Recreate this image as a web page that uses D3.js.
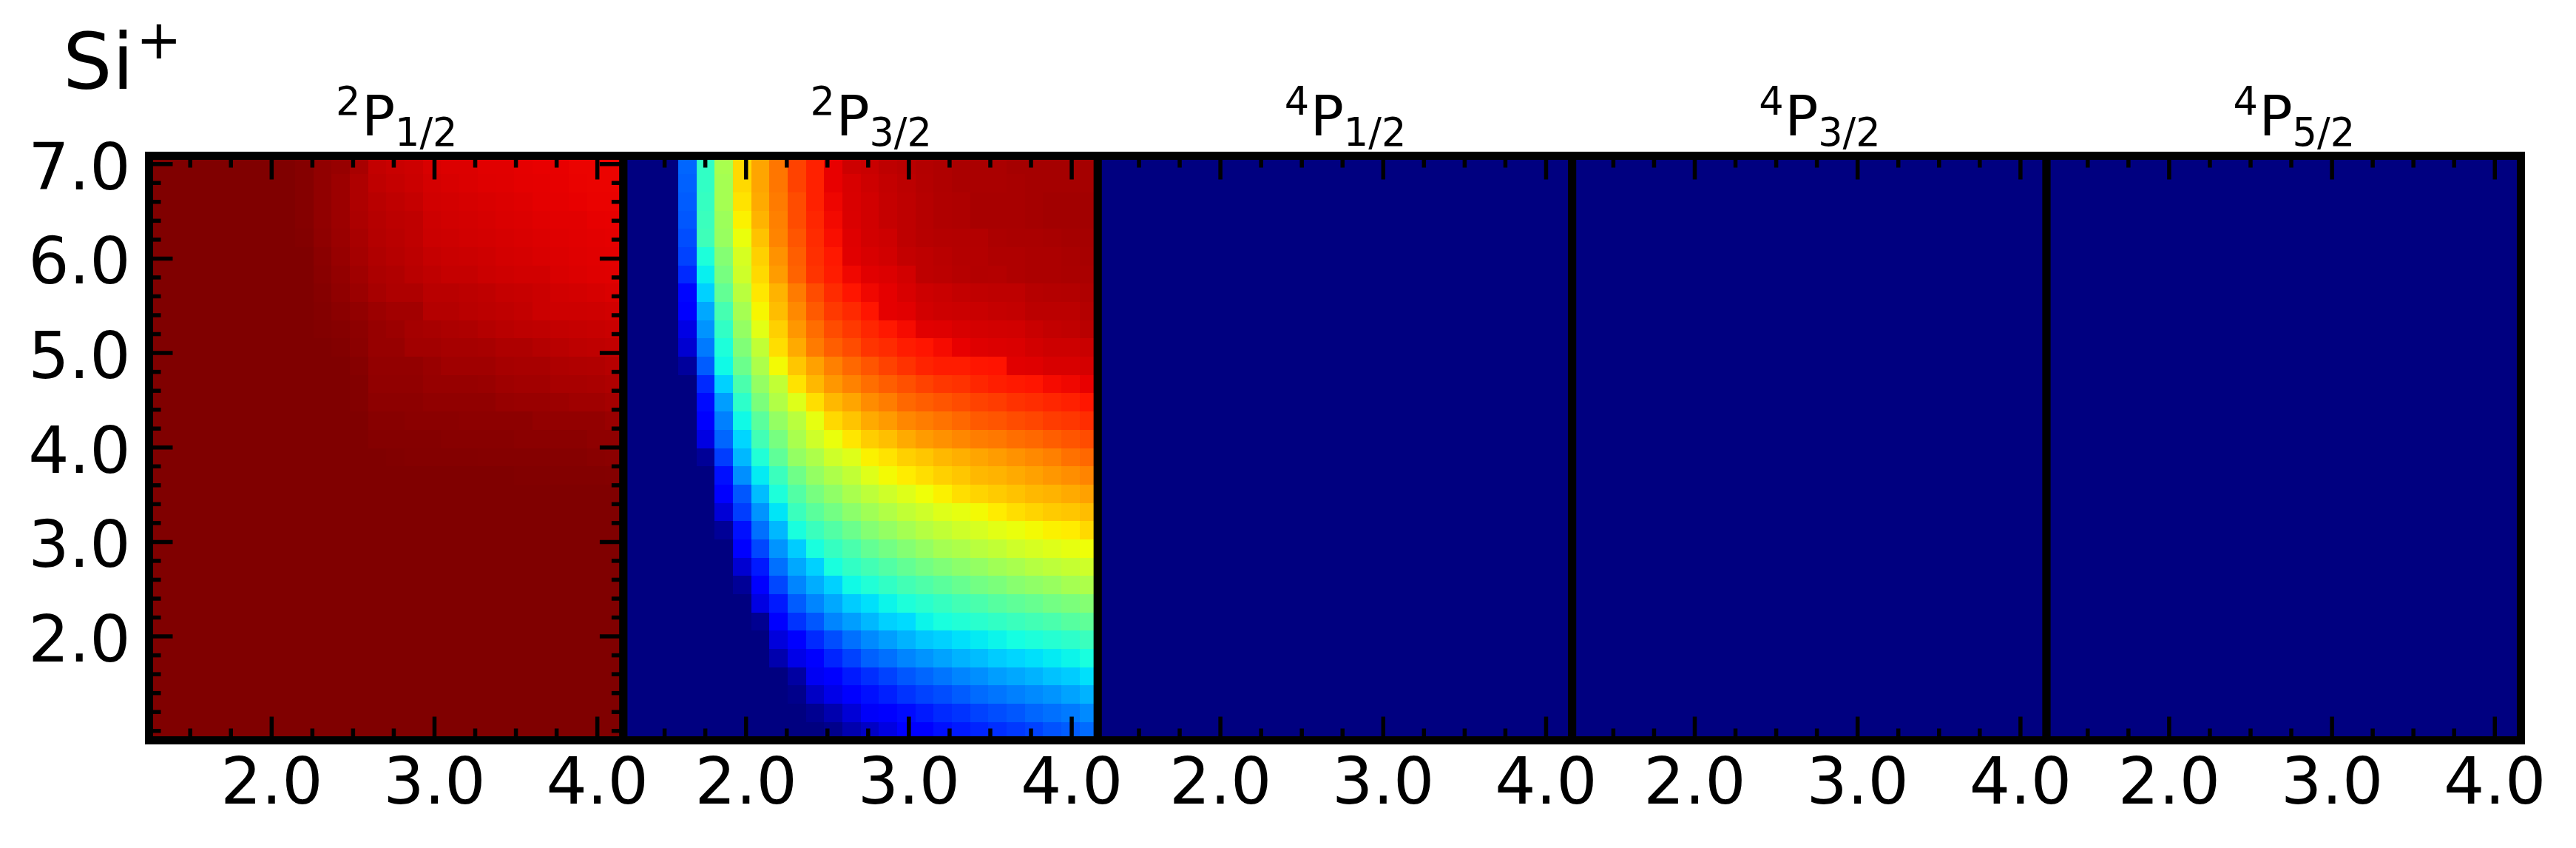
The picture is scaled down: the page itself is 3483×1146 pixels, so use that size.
<!DOCTYPE html>
<html><head><meta charset="utf-8">
<script src="https://cdn.jsdelivr.net/npm/d3@7"></script>
<style>html,body{margin:0;padding:0;background:#fff}svg{display:block}text{font-family:"DejaVu Sans";fill:#000}</style>
</head><body><div id="c"></div>
<script>
const speciesName = "Si", speciesCharge = "+";
const termNames = [["2","P","1/2"],["2","P","3/2"],["4","P","1/2"],["4","P","3/2"],["4","P","5/2"]];
const xMajor = [2,3,4], xMinor = [1.5,1.75,2.25,2.5,2.75,3.25,3.5,3.75];
const yMajor = [2,3,4,5,6,7];
const yMinor = [1,1.2,1.4,1.6,1.8,2.2,2.4,2.6,2.8,3.2,3.4,3.6,3.8,4.2,4.4,4.6,4.8,5.2,5.4,5.6,5.8,6.2,6.4,6.6,6.8];
const xDomain = [1.247,4.16], yDomain = [0.9,7.088];

// rows run from the top of each panel down; each row has 26 cells
const panel1 = [
[1,1,1,1,1,1,1,1,.995,.985,.98,.965,.942,.937,.933,.924,.92,.92,.916,.916,.912,.91,.91,.907,.907,.907],
[1,1,1,1,1,1,1,1,.995,.985,.975,.96,.945,.94,.935,.927,.924,.921,.918,.917,.913,.912,.911,.908,.907,.907],
[1,1,1,1,1,1,1,1,.995,.985,.975,.96,.95,.945,.94,.93,.928,.925,.923,.92,.918,.913,.912,.91,.908,.908],
[1,1,1,1,1,1,1,1,.995,.985,.975,.962,.953,.948,.945,.933,.93,.928,.925,.922,.92,.917,.915,.915,.911,.91],
[1,1,1,1,1,1,1,1,.997,.987,.977,.965,.955,.95,.945,.935,.933,.93,.928,.925,.923,.92,.918,.916,.914,.912],
[1,1,1,1,1,1,1,1,1,.99,.98,.968,.958,.953,.948,.94,.937,.935,.932,.928,.926,.923,.92,.918,.916,.915],
[1,1,1,1,1,1,1,1,1,.992,.983,.972,.962,.958,.95,.945,.94,.94,.935,.932,.93,.93,.923,.92,.918,.917],
[1,1,1,1,1,1,1,1,1,.994,.986,.976,.966,.96,.96,.95,.95,.948,.945,.94,.938,.935,.93,.928,.925,.922],
[1,1,1,1,1,1,1,1,1,.996,.99,.984,.975,.97,.97,.955,.955,.95,.948,.945,.942,.935,.933,.933,.932,.93],
[1,1,1,1,1,1,1,1,1,.997,.994,.988,.98,.975,.968,.965,.962,.96,.955,.95,.947,.945,.942,.94,.938,.936],
[1,1,1,1,1,1,1,1,1,1,.997,.99,.98,.98,.97,.97,.967,.967,.965,.96,.96,.955,.95,.947,.945,.943],
[1,1,1,1,1,1,1,1,1,1,1,.994,.983,.983,.983,.978,.972,.972,.972,.967,.965,.965,.96,.958,.957,.953],
[1,1,1,1,1,1,1,1,1,1,1,.997,.985,.985,.985,.98,.98,.98,.978,.973,.97,.97,.965,.965,.963,.96],
[1,1,1,1,1,1,1,1,1,1,1,.997,.988,.988,.988,.985,.985,.985,.985,.98,.978,.978,.975,.972,.972,.968],
[1,1,1,1,1,1,1,1,1,1,1,1,.993,.993,.99,.99,.99,.988,.988,.988,.988,.983,.983,.983,.983,.978],
[1,1,1,1,1,1,1,1,1,1,1,1,.995,.995,.995,.995,.993,.993,.993,.993,.99,.99,.99,.99,.987,.987],
[1,1,1,1,1,1,1,1,1,1,1,1,1,.998,.996,.996,.996,.996,.995,.995,.995,.995,.994,.994,.992,.99],
[1,1,1,1,1,1,1,1,1,1,1,1,1,1,1,1,1,1,1,1,.998,.998,.997,.997,.997,.996],
[1,1,1,1,1,1,1,1,1,1,1,1,1,1,1,1,1,1,1,1,1,1,1,1,1,1],
[1,1,1,1,1,1,1,1,1,1,1,1,1,1,1,1,1,1,1,1,1,1,1,1,1,1],
[1,1,1,1,1,1,1,1,1,1,1,1,1,1,1,1,1,1,1,1,1,1,1,1,1,1],
[1,1,1,1,1,1,1,1,1,1,1,1,1,1,1,1,1,1,1,1,1,1,1,1,1,1],
[1,1,1,1,1,1,1,1,1,1,1,1,1,1,1,1,1,1,1,1,1,1,1,1,1,1],
[1,1,1,1,1,1,1,1,1,1,1,1,1,1,1,1,1,1,1,1,1,1,1,1,1,1],
[1,1,1,1,1,1,1,1,1,1,1,1,1,1,1,1,1,1,1,1,1,1,1,1,1,1],
[1,1,1,1,1,1,1,1,1,1,1,1,1,1,1,1,1,1,1,1,1,1,1,1,1,1],
[1,1,1,1,1,1,1,1,1,1,1,1,1,1,1,1,1,1,1,1,1,1,1,1,1,1],
[1,1,1,1,1,1,1,1,1,1,1,1,1,1,1,1,1,1,1,1,1,1,1,1,1,1],
[1,1,1,1,1,1,1,1,1,1,1,1,1,1,1,1,1,1,1,1,1,1,1,1,1,1],
[1,1,1,1,1,1,1,1,1,1,1,1,1,1,1,1,1,1,1,1,1,1,1,1,1,1],
[1,1,1,1,1,1,1,1,1,1,1,1,1,1,1,1,1,1,1,1,1,1,1,1,1,1],
[1,1,1,1,1,1,1,1,1,1,1,1,1,1,1,1,1,1,1,1,1,1,1,1,1,1]
];
const panel2 = [
[0,0,0,.225,.41,.555,.68,.735,.785,.84,.875,.91,.933,.937,.946,.95,.956,.959,.963,.963,.963,.968,.968,.968,.968,.968],
[0,0,0,.22,.41,.55,.68,.735,.785,.84,.875,.91,.924,.933,.942,.948,.955,.959,.963,.963,.963,.965,.968,.968,.968,.968],
[0,0,0,.215,.415,.55,.67,.73,.78,.83,.875,.905,.923,.93,.94,.946,.953,.958,.96,.965,.965,.965,.968,.97,.97,.97],
[0,0,0,.21,.42,.54,.655,.72,.775,.83,.87,.90,.922,.93,.94,.946,.953,.958,.96,.965,.965,.965,.968,.97,.97,.97],
[0,0,0,.20,.425,.535,.635,.705,.77,.82,.865,.895,.918,.929,.933,.946,.952,.955,.956,.956,.962,.963,.963,.965,.968,.968],
[0,0,0,.19,.385,.51,.61,.69,.755,.81,.86,.885,.916,.924,.93,.942,.946,.95,.955,.955,.959,.959,.962,.962,.964,.966],
[0,0,0,.165,.36,.495,.60,.68,.745,.805,.855,.88,.903,.916,.92,.929,.946,.949,.953,.956,.955,.959,.962,.962,.963,.963],
[0,0,0,.13,.33,.47,.575,.665,.72,.78,.83,.865,.888,.903,.912,.924,.933,.937,.942,.944,.946,.946,.953,.955,.956,.959],
[0,0,0,.11,.29,.435,.55,.65,.71,.765,.815,.85,.867,.888,.912,.916,.929,.933,.935,.937,.94,.942,.949,.949,.949,.955],
[0,0,0,.088,.27,.41,.53,.625,.69,.75,.795,.83,.85,.87,.885,.898,.916,.918,.924,.927,.929,.93,.937,.942,.944,.95],
[0,0,0,.07,.245,.385,.505,.585,.675,.73,.78,.81,.83,.855,.865,.88,.888,.898,.91,.918,.92,.922,.929,.933,.933,.937],
[0,0,0,.025,.215,.37,.48,.56,.645,.70,.74,.775,.80,.82,.84,.857,.873,.88,.88,.888,.89,.916,.918,.924,.924,.927],
[0,0,0,0,.165,.33,.44,.53,.585,.67,.715,.75,.772,.794,.81,.825,.84,.852,.857,.87,.878,.884,.888,.898,.903,.91],
[0,0,0,0,.135,.28,.405,.50,.565,.62,.675,.715,.735,.762,.778,.80,.81,.82,.83,.84,.847,.857,.862,.87,.876,.887],
[0,0,0,0,.11,.25,.37,.46,.53,.575,.63,.68,.703,.73,.746,.767,.778,.788,.80,.815,.82,.83,.836,.847,.852,.862],
[0,0,0,0,.085,.225,.335,.43,.495,.555,.60,.635,.666,.693,.708,.73,.746,.757,.767,.778,.783,.794,.80,.81,.82,.83],
[0,0,0,0,.02,.185,.305,.39,.465,.53,.56,.60,.62,.655,.67,.69,.70,.715,.725,.735,.745,.755,.765,.775,.79,.80],
[0,0,0,0,0,.14,.265,.355,.42,.485,.53,.56,.585,.62,.645,.66,.675,.69,.70,.715,.72,.73,.74,.75,.76,.77],
[0,0,0,0,0,.11,.21,.31,.385,.45,.495,.525,.555,.58,.60,.62,.64,.655,.675,.685,.695,.705,.715,.72,.73,.74],
[0,0,0,0,0,.075,.185,.27,.35,.42,.46,.49,.52,.545,.565,.585,.60,.62,.63,.645,.66,.675,.685,.695,.70,.71],
[0,0,0,0,0,.02,.14,.235,.305,.38,.42,.45,.48,.51,.53,.55,.57,.585,.60,.61,.625,.635,.645,.655,.66,.68],
[0,0,0,0,0,0,.11,.195,.27,.325,.38,.415,.44,.47,.49,.51,.53,.55,.56,.575,.585,.60,.61,.62,.63,.64],
[0,0,0,0,0,0,.07,.15,.235,.29,.33,.38,.41,.43,.45,.47,.49,.505,.52,.53,.545,.555,.57,.58,.59,.60],
[0,0,0,0,0,0,.02,.11,.195,.255,.295,.33,.37,.39,.41,.43,.445,.46,.475,.49,.50,.515,.525,.535,.55,.56],
[0,0,0,0,0,0,0,.085,.15,.215,.255,.29,.325,.345,.365,.385,.40,.415,.43,.44,.455,.465,.475,.49,.50,.51],
[0,0,0,0,0,0,0,.015,.115,.175,.21,.255,.28,.305,.33,.34,.365,.38,.39,.40,.41,.42,.43,.44,.455,.465],
[0,0,0,0,0,0,0,0,.08,.115,.165,.20,.235,.26,.28,.30,.32,.33,.345,.355,.365,.375,.385,.395,.405,.42],
[0,0,0,0,0,0,0,0,.04,.09,.115,.16,.19,.22,.235,.255,.27,.285,.30,.31,.325,.335,.345,.355,.365,.38],
[0,0,0,0,0,0,0,0,0,.03,.10,.115,.15,.17,.19,.21,.225,.24,.255,.265,.28,.29,.30,.315,.325,.345],
[0,0,0,0,0,0,0,0,0,.01,.06,.09,.11,.14,.155,.175,.19,.20,.215,.23,.24,.25,.26,.27,.285,.30],
[0,0,0,0,0,0,0,0,0,0,.015,.04,.075,.105,.12,.135,.15,.165,.175,.19,.20,.21,.225,.235,.245,.26],
[0,0,0,0,0,0,0,0,0,0,0,.01,.04,.06,.085,.11,.125,.14,.15,.16,.17,.18,.19,.205,.215,.23]
];
const panelEmpty = [
[0,0,0,0,0,0,0,0,0,0,0,0,0,0,0,0,0,0,0,0,0,0,0,0,0,0],
[0,0,0,0,0,0,0,0,0,0,0,0,0,0,0,0,0,0,0,0,0,0,0,0,0,0],
[0,0,0,0,0,0,0,0,0,0,0,0,0,0,0,0,0,0,0,0,0,0,0,0,0,0],
[0,0,0,0,0,0,0,0,0,0,0,0,0,0,0,0,0,0,0,0,0,0,0,0,0,0],
[0,0,0,0,0,0,0,0,0,0,0,0,0,0,0,0,0,0,0,0,0,0,0,0,0,0],
[0,0,0,0,0,0,0,0,0,0,0,0,0,0,0,0,0,0,0,0,0,0,0,0,0,0],
[0,0,0,0,0,0,0,0,0,0,0,0,0,0,0,0,0,0,0,0,0,0,0,0,0,0],
[0,0,0,0,0,0,0,0,0,0,0,0,0,0,0,0,0,0,0,0,0,0,0,0,0,0],
[0,0,0,0,0,0,0,0,0,0,0,0,0,0,0,0,0,0,0,0,0,0,0,0,0,0],
[0,0,0,0,0,0,0,0,0,0,0,0,0,0,0,0,0,0,0,0,0,0,0,0,0,0],
[0,0,0,0,0,0,0,0,0,0,0,0,0,0,0,0,0,0,0,0,0,0,0,0,0,0],
[0,0,0,0,0,0,0,0,0,0,0,0,0,0,0,0,0,0,0,0,0,0,0,0,0,0],
[0,0,0,0,0,0,0,0,0,0,0,0,0,0,0,0,0,0,0,0,0,0,0,0,0,0],
[0,0,0,0,0,0,0,0,0,0,0,0,0,0,0,0,0,0,0,0,0,0,0,0,0,0],
[0,0,0,0,0,0,0,0,0,0,0,0,0,0,0,0,0,0,0,0,0,0,0,0,0,0],
[0,0,0,0,0,0,0,0,0,0,0,0,0,0,0,0,0,0,0,0,0,0,0,0,0,0],
[0,0,0,0,0,0,0,0,0,0,0,0,0,0,0,0,0,0,0,0,0,0,0,0,0,0],
[0,0,0,0,0,0,0,0,0,0,0,0,0,0,0,0,0,0,0,0,0,0,0,0,0,0],
[0,0,0,0,0,0,0,0,0,0,0,0,0,0,0,0,0,0,0,0,0,0,0,0,0,0],
[0,0,0,0,0,0,0,0,0,0,0,0,0,0,0,0,0,0,0,0,0,0,0,0,0,0],
[0,0,0,0,0,0,0,0,0,0,0,0,0,0,0,0,0,0,0,0,0,0,0,0,0,0],
[0,0,0,0,0,0,0,0,0,0,0,0,0,0,0,0,0,0,0,0,0,0,0,0,0,0],
[0,0,0,0,0,0,0,0,0,0,0,0,0,0,0,0,0,0,0,0,0,0,0,0,0,0],
[0,0,0,0,0,0,0,0,0,0,0,0,0,0,0,0,0,0,0,0,0,0,0,0,0,0],
[0,0,0,0,0,0,0,0,0,0,0,0,0,0,0,0,0,0,0,0,0,0,0,0,0,0],
[0,0,0,0,0,0,0,0,0,0,0,0,0,0,0,0,0,0,0,0,0,0,0,0,0,0],
[0,0,0,0,0,0,0,0,0,0,0,0,0,0,0,0,0,0,0,0,0,0,0,0,0,0],
[0,0,0,0,0,0,0,0,0,0,0,0,0,0,0,0,0,0,0,0,0,0,0,0,0,0],
[0,0,0,0,0,0,0,0,0,0,0,0,0,0,0,0,0,0,0,0,0,0,0,0,0,0],
[0,0,0,0,0,0,0,0,0,0,0,0,0,0,0,0,0,0,0,0,0,0,0,0,0,0],
[0,0,0,0,0,0,0,0,0,0,0,0,0,0,0,0,0,0,0,0,0,0,0,0,0,0],
[0,0,0,0,0,0,0,0,0,0,0,0,0,0,0,0,0,0,0,0,0,0,0,0,0,0]
];
const panels = [panel1, panel2, panelEmpty, panelEmpty, panelEmpty];

// matplotlib "jet" colormap anchors
const jetR = d3.scaleLinear().domain([0,.35,.66,.89,1]).range([0,0,1,1,.5]);
const jetG = d3.scaleLinear().domain([0,.125,.375,.64,.91,1]).range([0,0,1,1,0,0]);
const jetB = d3.scaleLinear().domain([0,.11,.34,.65,1]).range([.5,1,1,0,0]);
const jet = v => `rgb(${Math.round(jetR(v)*255)},${Math.round(jetG(v)*255)},${Math.round(jetB(v)*255)})`;

const W = 3483, H = 1146, left0 = 201.5, panelW = 641.4, top0 = 210.5, bottom0 = 1000.5;
const svg = d3.select("#c").append("svg").attr("width", W).attr("height", H).attr("viewBox", `0 0 ${W} ${H}`);
svg.append("rect").attr("width", W).attr("height", H).attr("fill", "#fff");

const x = d3.scaleLinear().domain(xDomain).range([0, panelW]);
const y = d3.scaleLinear().domain(yDomain).range([bottom0 - top0, 0]);
const col = d3.scaleBand().domain(d3.range(26)).range([0, panelW]);
const row = d3.scaleBand().domain(d3.range(32)).range([0, bottom0 - top0]);
const TW = 5.5, MAJ = 32, MIN = 16, FS = 87;

function tickStyle(g){
  g.select(".domain").remove();
  g.selectAll("line").attr("stroke", "#000").attr("stroke-width", TW);
}
function noLabel(a){ return a.tickFormat("").tickSizeOuter(0).offset(0); }

panels.forEach((mat, p) => {
  const g = svg.append("g").attr("transform", `translate(${left0 + p * panelW},${top0})`);
  const cells = g.append("g").attr("shape-rendering", "crispEdges");
  mat.forEach((r, i) => {
    cells.selectAll(null).data(r).join("rect")
      .attr("x", (d, j) => col(j)).attr("y", row(i))
      .attr("width", col.bandwidth() + 0.6).attr("height", row.bandwidth() + 0.6)
      .attr("fill", d => jet(d));
  });
  const h = bottom0 - top0;
  g.append("g").call(noLabel(d3.axisTop(x)).tickValues(xMajor).tickSizeInner(-MAJ)).call(tickStyle);
  g.append("g").call(noLabel(d3.axisTop(x)).tickValues(xMinor).tickSizeInner(-MIN)).call(tickStyle);
  g.append("g").attr("transform", `translate(0,${h})`)
    .call(noLabel(d3.axisBottom(x)).tickValues(xMinor).tickSizeInner(-MIN)).call(tickStyle);
  const bot = g.append("g").attr("transform", `translate(0,${h})`)
    .call(d3.axisBottom(x).tickValues(xMajor).tickSizeInner(-MAJ).tickSizeOuter(0).offset(0).tickPadding(23.7).tickFormat(d3.format(".1f")))
    .call(tickStyle);
  bot.attr("font-family", null).attr("font-size", null);
  bot.selectAll("text").attr("font-size", FS).attr("font-family", "DejaVu Sans").attr("fill", "#000");

  if (p === 0) {
    const lf = g.append("g")
      .call(d3.axisLeft(y).tickValues(yMajor).tickSizeInner(-MAJ).tickSizeOuter(0).offset(0).tickPadding(25).tickFormat(d3.format(".1f")))
      .call(tickStyle);
    lf.attr("font-family", null).attr("font-size", null);
    lf.selectAll("text").attr("font-size", FS).attr("font-family", "DejaVu Sans").attr("fill", "#000").attr("dy", 34);
    g.append("g").call(noLabel(d3.axisLeft(y)).tickValues(yMinor).tickSizeInner(-MIN)).call(tickStyle);
    g.append("g").attr("transform", `translate(${panelW},0)`)
      .call(noLabel(d3.axisRight(y)).tickValues(yMajor).tickSizeInner(-MAJ)).call(tickStyle);
    g.append("g").attr("transform", `translate(${panelW},0)`)
      .call(noLabel(d3.axisRight(y)).tickValues(yMinor).tickSizeInner(-MIN)).call(tickStyle);
  }
  g.append("rect").attr("width", panelW).attr("height", h)
    .attr("fill", "none").attr("stroke", "#000").attr("stroke-width", 11);

  const [sup, letter, sub] = termNames[p];
  const ox = left0 + p * panelW + 252.5;
  const t = svg.append("text");
  t.append("tspan").attr("x", ox).attr("y", 155).attr("font-size", 52.5).text(sup);
  t.append("tspan").attr("x", ox + 35).attr("y", 183).attr("font-size", 75).text(letter);
  t.append("tspan").attr("x", ox + 80).attr("y", 197).attr("font-size", 52.5).text(sub);
});

const s = svg.append("text");
s.append("tspan").attr("x", 85).attr("y", 120).attr("font-size", 105).text(speciesName);
s.append("tspan").attr("x", 184).attr("y", 79).attr("font-size", 73.6).text(speciesCharge);
</script></body></html>
